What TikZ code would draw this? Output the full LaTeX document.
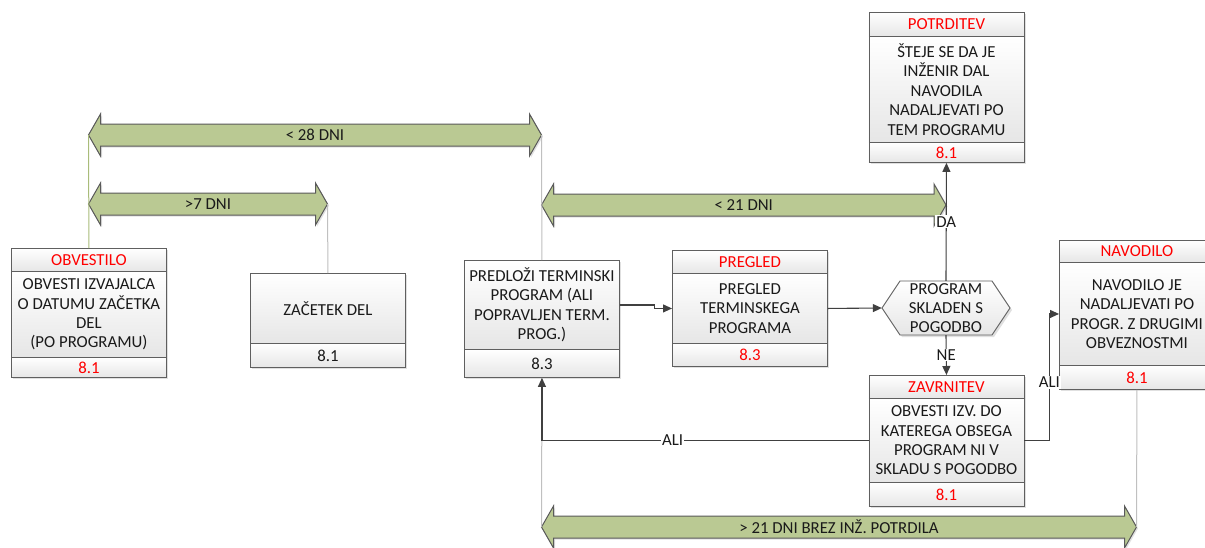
\documentclass[tikz,border=0pt]{standalone}
\usepackage{fontspec}
\setmainfont{Carlito}
\usetikzlibrary{arrows.meta,shadows}
\definecolor{boxline}{HTML}{5F5F5F}
\definecolor{boxbot}{HTML}{E6E6E6}
\definecolor{connc}{HTML}{404040}
\definecolor{arrfill}{HTML}{BAC993}
\definecolor{arrline}{HTML}{5A5A5A}
\definecolor{guidegray}{HTML}{C0C0C0}
\definecolor{guidegreen}{HTML}{A9BC7A}
\definecolor{txt}{HTML}{1A1A1A}
\definecolor{hdrred}{HTML}{FF0000}
\newcommand\fs{\fontsize{16.8}{19.4}\selectfont}
% horizontal double-headed time-span arrow: name, left x, right x, y, label
\newcommand\spanarrow[5]{%
  \draw[bigarrow] (#2,#4) -- ++(12,-21) -- ++(0,10) -- (#3-12,#4-11) -- ++(0,-10)
    -- (#3,#4) -- ++(-12,21) -- ++(0,-10) -- (#2+12,#4+11) -- ++(0,10) -- cycle;
  \coordinate (#1-l) at (#2,#4);
  \coordinate (#1-r) at (#3,#4);
  \node[spanlabel] (#1) at ({(#2+#3)/2},#4) {#5};}
\begin{document}
\begin{tikzpicture}[x=1pt,y=-1pt,
  part/.style={draw=boxline, line width=0.9pt, top color=white, bottom color=boxbot,
    inner sep=0pt, anchor=north west, align=center, text=txt, font=\fs,
    minimum width=155pt,
    drop shadow={shadow xshift=2pt, shadow yshift=-2pt, fill=black, opacity=0.12}},
  hdr/.style={part, text=hdrred},
  bigarrow/.style={draw=arrline, line width=1pt, fill=arrfill, line join=miter,
    drop shadow={shadow xshift=1.5pt, shadow yshift=-1.5pt, fill=black, opacity=0.12}},
  spanlabel/.style={inner sep=0pt, font=\fs, text=txt},
  guide/.style={draw=guidegray, line width=1pt},
  conn/.style={draw=connc, line width=1.1pt, -{Triangle[length=9pt,width=8pt]}},
  lbl/.style={fill=white, inner sep=1pt, font=\fs, text=txt}]
\useasboundingbox[fill=white] (0,0) rectangle (1205,547);

% OBVESTILO
\node[hdr,  minimum height=23pt] (obvH) at (11,248) {OBVESTILO};
\node[part, minimum height=86pt] (obvB) at (11,271) {OBVESTI IZVAJALCA\\O DATUMU ZAČETKA\\DEL\\(PO PROGRAMU)};
\node[hdr,  minimum height=20pt] (obvF) at (11,357) {8.1};

% ZAČETEK DEL
\node[part, minimum height=70pt] (zacB) at (250,273) {ZAČETEK DEL};
\node[part, minimum height=24pt] (zacF) at (250,343) {8.1};

% PREDLOŽI
\node[part, minimum height=89pt] (predB) at (464,260) {PREDLOŽI TERMINSKI\\PROGRAM (ALI\\POPRAVLJEN TERM.\\PROG.)};
\node[part, minimum height=28pt] (predF) at (464,349) {8.3};

% PREGLED
\node[hdr,  minimum height=23pt] (pregH) at (672,250) {PREGLED};
\node[part, minimum height=70pt] (pregB) at (672,273) {PREGLED\\TERMINSKEGA\\PROGRAMA};
\node[hdr,  minimum height=23pt] (pregF) at (672,343) {8.3};

% POTRDITEV
\node[hdr,  minimum height=24pt]  (potH) at (868.5,12) {POTRDITEV};
\node[part, minimum height=106pt] (potB) at (868.5,36) {ŠTEJE SE DA JE\\INŽENIR DAL\\NAVODILA\\NADALJEVATI PO\\TEM PROGRAMU};
\node[hdr,  minimum height=20pt]  (potF) at (868.5,142) {8.1};

% ZAVRNITEV
\node[hdr,  minimum height=23pt] (zavH) at (868.5,375) {ZAVRNITEV};
\node[part, minimum height=84pt] (zavB) at (868.5,398) {OBVESTI IZV. DO\\KATEREGA OBSEGA\\PROGRAM NI V\\SKLADU S POGODBO};
\node[hdr,  minimum height=24pt] (zavF) at (868.5,482) {8.1};

% NAVODILO
\node[hdr,  minimum height=22pt]  (navH) at (1059,240) {NAVODILO};
\node[part, minimum height=103pt] (navB) at (1059,262) {NAVODILO JE\\NADALJEVATI PO\\PROGR. Z DRUGIMI\\OBVEZNOSTMI};
\node[hdr,  minimum height=24pt]  (navF) at (1059,365) {8.1};

% decision
\shade[draw=boxline, line width=0.9pt, top color=white, bottom color=boxbot,
  drop shadow={shadow xshift=2pt, shadow yshift=-2pt, fill=black, opacity=0.12}]
  (882,308) -- (900,281) -- (992,281) -- (1010,308) -- (992,335) -- (900,335) -- cycle;
\node[align=center, font=\fs, text=txt, inner sep=0pt, minimum width=128pt,
  minimum height=54pt] (hex) at (946,308) {PROGRAM\\SKLADEN S\\POGODBO};

% time spans
\spanarrow{a28}{88.5}{541.5}{135}{< 28 DNI}
\spanarrow{a7}{88.5}{327.5}{204}{>7 DNI}
\spanarrow{a21}{541.5}{946}{205}{< 21 DNI}
\spanarrow{a21b}{541.5}{1136.5}{527}{> 21 DNI BREZ INŽ. POTRDILA}

% guide lines from the boxes to the span ends
\draw[guide, draw=guidegreen] (obvH.north) -- (a28-l);
\draw[guide] (zacB.north) -- (a7-r);
\draw[guide] (predB.north) -- (a28-r);
\draw[guide] (predF.south) -- (a21b-l);
\draw[guide] (navF.south) -- (a21b-r);

% flow
\draw[conn] (predB.east) -- ++(35,0) |- (pregB.west);
\draw[conn] (pregB.east) -- (hex.west);
\draw[conn] (hex.north) -- node[lbl]{DA} (potF.south);
\draw[conn] (hex.south) -- node[lbl]{NE} (zavH.north);
\draw[conn] (zavB.west) -| node[lbl, pos=0.3]{ALI} (predF.south);
\draw[conn] (zavB.east) -- ++(25,0) |- node[lbl, pos=0.23]{ALI} (navB.west);
\end{tikzpicture}
\end{document}
